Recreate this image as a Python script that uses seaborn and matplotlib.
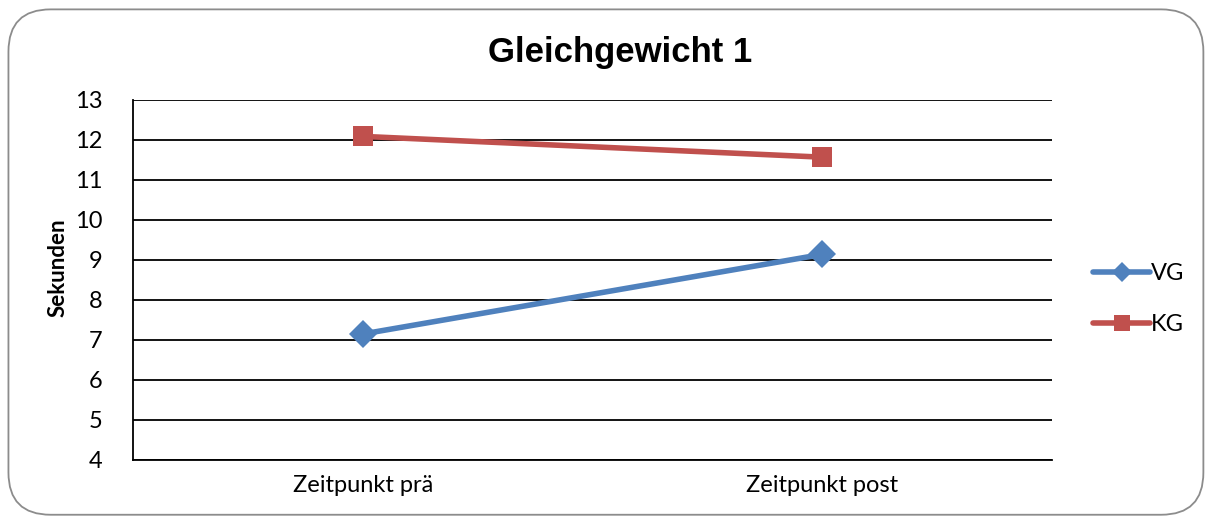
import pandas as pd
import matplotlib.pyplot as plt
import seaborn as sns
from matplotlib.patches import FancyBboxPatch

# Daten
zeitpunkte = ['Zeitpunkt prä', 'Zeitpunkt post']
vg_werte = [7.15, 9.14]
kg_werte = [12.09, 11.57]
gruppen = ['VG', 'KG']
farben = {'VG': '#4F81BD', 'KG': '#C0504D'}
marker = {'VG': 'D', 'KG': 's'}

df = pd.DataFrame({
    'Zeitpunkt': zeitpunkte * 2,
    'Sekunden': vg_werte + kg_werte,
    'Gruppe': ['VG'] * 2 + ['KG'] * 2,
})

sns.set_theme(style='white')
plt.rcParams['font.family'] = ['Lato', 'DejaVu Sans']
plt.rcParams['text.color'] = 'black'

fig = plt.figure(figsize=(12.07, 5.21), dpi=100)
ax = fig.add_axes([0.1102, 0.1171, 0.8716 - 0.1102, 0.8081 - 0.1171])

# abgerundeter Rahmen
rahmen = FancyBboxPatch((0.007, 0.012), 0.990, 0.970,
                        boxstyle='round,pad=0,rounding_size=0.035',
                        transform=fig.transFigure, facecolor='none',
                        edgecolor='#8c8c8c', linewidth=1.3, mutation_aspect=1207 / 521)
fig.patches.append(rahmen)

for g in gruppen:
    sub = df[df['Gruppe'] == g]
    sns.lineplot(data=sub, x='Zeitpunkt', y='Sekunden', ax=ax, color=farben[g],
                 marker=marker[g], markersize=15 if g == 'KG' else 14,
                 markeredgewidth=0, linewidth=4, label=g, sort=False)

ax.set_xlim(-0.5, 1.5)
ax.set_ylim(4, 13)
ax.set_yticks(range(4, 14))
ax.yaxis.grid(True, color='black', linewidth=1.3)
ax.set_axisbelow(True)
for s in ['top', 'right']:
    ax.spines[s].set_visible(False)
for s in ['left', 'bottom']:
    ax.spines[s].set_color('black')
    ax.spines[s].set_linewidth(1.3)
ax.tick_params(axis='both', length=0, labelsize=17, colors='black')
ax.tick_params(axis='y', pad=22)
ax.tick_params(axis='x', pad=11)
ax.set_xlabel('')
ax.set_ylabel('Sekunden', fontsize=16, fontweight='bold', color='black')
ax.yaxis.set_label_coords(-0.0707, 0.533)

fig.text(0.514, 0.9, 'Gleichgewicht 1', ha='center', va='center', color='black',
         fontsize=25, fontweight='bold', family=['Liberation Sans', 'DejaVu Sans'])

leg = ax.legend(loc='center left', bbox_to_anchor=(1.022, 0.447), frameon=False,
                fontsize=17, handlelength=2.4, handletextpad=0.05, labelspacing=1.25,
                markerscale=0.75)

fig.savefig('out.png', dpi=100)
